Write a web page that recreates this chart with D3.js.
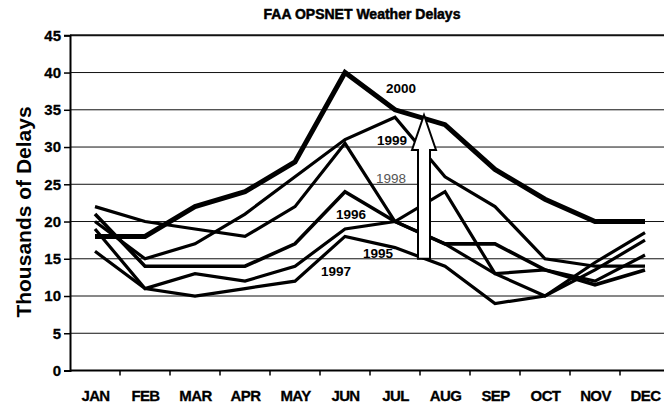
<!DOCTYPE html>
<html>
<head>
<meta charset="utf-8">
<script src="https://cdn.jsdelivr.net/npm/d3@7"></script>
<style>
  html, body { margin: 0; padding: 0; background: #fff; }
  svg { display: block; font-family: "Liberation Sans", Arial, sans-serif; }
</style>
</head>
<body>
<svg id="chart" width="664" height="410"></svg>
<script>
// Monthly weather delays (thousands), FAA OPSNET
const months = ["JAN","FEB","MAR","APR","MAY","JUN","JUL","AUG","SEP","OCT","NOV","DEC"];
const yTicks = [0, 5, 10, 15, 20, 25, 30, 35, 40, 45];

const y1995 = [19, 11, 13, 12, 14, 19, 20, 24, 13, 13.5, 12, 15.5];
const y1996 = [21, 14, 14, 14, 17, 24, 20, 17, 17, 13.5, 11.5, 13.5];
const y1997 = [16, 11, 10, 11, 12, 18, 16.5, 14, 9, 10, 14.5, 18.5];
const y1998 = [22, 20, 19, 18, 22, 30.5, 20, 17, 13, 10, 13.5, 17.5];
const y1999 = [20, 15, 17, 21, 26, 31, 34, 26, 22, 15, 14, 14];
const y2000 = [18, 18, 22, 24, 28, 40, 35, 33, 27, 23, 20, 20];

const seriesNames = ["1995", "1996", "1997", "1998", "1999", "2000"];
const seriesValues = [y1995, y1996, y1997, y1998, y1999, y2000];

// Year labels placed in data space: [month index, value at text baseline]
const labelMonthPos = [5.66, 5.12, 4.82, 5.92, 5.94, 6.12];
const labelValuePos = [15.1, 20.3, 12.7, 25.2, 30.3, 37.25];

// Upward arrow between JUL and AUG: base, head base, tip (thousands)
const arrowMonthPos = 6.58;
const arrowValues = [15, 29.6, 34.3];

const svg = d3.select("#chart");
const plotLeft = 70, plotRight = 670, plotTop = 35.3, plotBottom = 370.5;

const x = d3.scalePoint().domain(months).range([plotLeft, plotRight]).padding(0.5);
const step = x.step();
const xi = i => x(months[0]) + i * step;
const y = d3.scaleLinear().domain([0, 45]).range([plotBottom, plotTop]);

// Title
svg.append("text")
  .attr("x", 362).attr("y", 19)
  .attr("text-anchor", "middle")
  .attr("font-size", 14).attr("font-weight", "bold")
  .attr("stroke", "#000").attr("stroke-width", 0.5)
  .text("FAA OPSNET Weather Delays");

// Horizontal gridlines
svg.append("g").selectAll("line")
  .data(yTicks.filter(d => d > 0))
  .join("line")
  .attr("x1", plotLeft).attr("x2", 664)
  .attr("y1", d => y(d)).attr("y2", d => y(d))
  .attr("stroke", "#111")
  .attr("stroke-width", d => d === 45 ? 2 : 1);

// Y axis
const yAxis = svg.append("g")
  .attr("transform", `translate(${plotLeft},0)`)
  .call(d3.axisLeft(y).tickValues(yTicks).tickSize(6).tickPadding(3));
yAxis.select(".domain").attr("stroke", "#000").attr("stroke-width", 2);
yAxis.selectAll(".tick line").attr("stroke", "#000").attr("stroke-width", 1.5);
yAxis.selectAll(".tick text")
  .attr("font-size", 15).attr("font-weight", "bold")
  .attr("font-family", "Liberation Sans, Arial, sans-serif")
  .attr("stroke", "#000").attr("stroke-width", 0.3)
  .attr("fill", "#000");

// X axis: labels at month centres, tick marks on month boundaries
const xAxis = svg.append("g")
  .attr("transform", `translate(0,${plotBottom})`)
  .call(d3.axisBottom(x).tickSize(0).tickPadding(20));
xAxis.select(".domain").remove();
xAxis.selectAll(".tick text")
  .attr("font-size", 15).attr("font-weight", "bold")
  .attr("font-family", "Liberation Sans, Arial, sans-serif")
  .attr("fill", "#000")
  .attr("stroke", "#000").attr("stroke-width", 0.3)
  .attr("letter-spacing", -0.6);
svg.append("line")
  .attr("x1", plotLeft).attr("x2", 664)
  .attr("y1", plotBottom).attr("y2", plotBottom)
  .attr("stroke", "#000").attr("stroke-width", 2);
svg.append("g").selectAll("line")
  .data(d3.range(1, 12))
  .join("line")
  .attr("x1", i => plotLeft + i * step).attr("x2", i => plotLeft + i * step)
  .attr("y1", plotBottom).attr("y2", plotBottom + 5)
  .attr("stroke", "#000").attr("stroke-width", 1.5);

// Y axis title
svg.append("text")
  .attr("transform", "translate(31,212) rotate(-90)")
  .attr("text-anchor", "middle")
  .attr("font-size", 21).attr("font-weight", "bold")
  .text("Thousands of Delays");

// Series lines
const line = d3.line()
  .x((d, i) => x(months[i]))
  .y(d => y(d));

svg.append("g").selectAll("path")
  .data(seriesValues.map((v, k) => ({ name: seriesNames[k], values: v })))
  .join("path")
  .attr("d", d => line(d.values))
  .attr("fill", "none")
  .attr("stroke", "#000")
  .attr("stroke-linejoin", "miter")
  .attr("stroke-width", d => d.name === "2000" ? 5 : (d.name === "1996" ? 3.6 : 3.2));

// Arrow
const ax = xi(arrowMonthPos);
const shaftHalf = 6, headHalf = 12;
const arrowPts = [
  [ax - shaftHalf, y(arrowValues[0])],
  [ax - shaftHalf, y(arrowValues[1])],
  [ax - headHalf, y(arrowValues[1])],
  [ax, y(arrowValues[2])],
  [ax + headHalf, y(arrowValues[1])],
  [ax + shaftHalf, y(arrowValues[1])],
  [ax + shaftHalf, y(arrowValues[0])]
];
svg.append("polygon")
  .attr("points", arrowPts.map(p => p.join(",")).join(" "))
  .attr("fill", "#fff")
  .attr("stroke", "#000")
  .attr("stroke-width", 2)
  .attr("stroke-linejoin", "miter");

// Year labels
svg.append("g").selectAll("text")
  .data(seriesNames)
  .join("text")
  .attr("x", (d, k) => xi(labelMonthPos[k]))
  .attr("y", (d, k) => y(labelValuePos[k]))
  .attr("text-anchor", "middle")
  .attr("font-size", 13.5)
  .attr("font-weight", d => d === "1998" ? "normal" : "bold")
  .attr("fill", d => d === "1998" ? "#555" : "#000")
  .text(d => d);
</script>
</body>
</html>
